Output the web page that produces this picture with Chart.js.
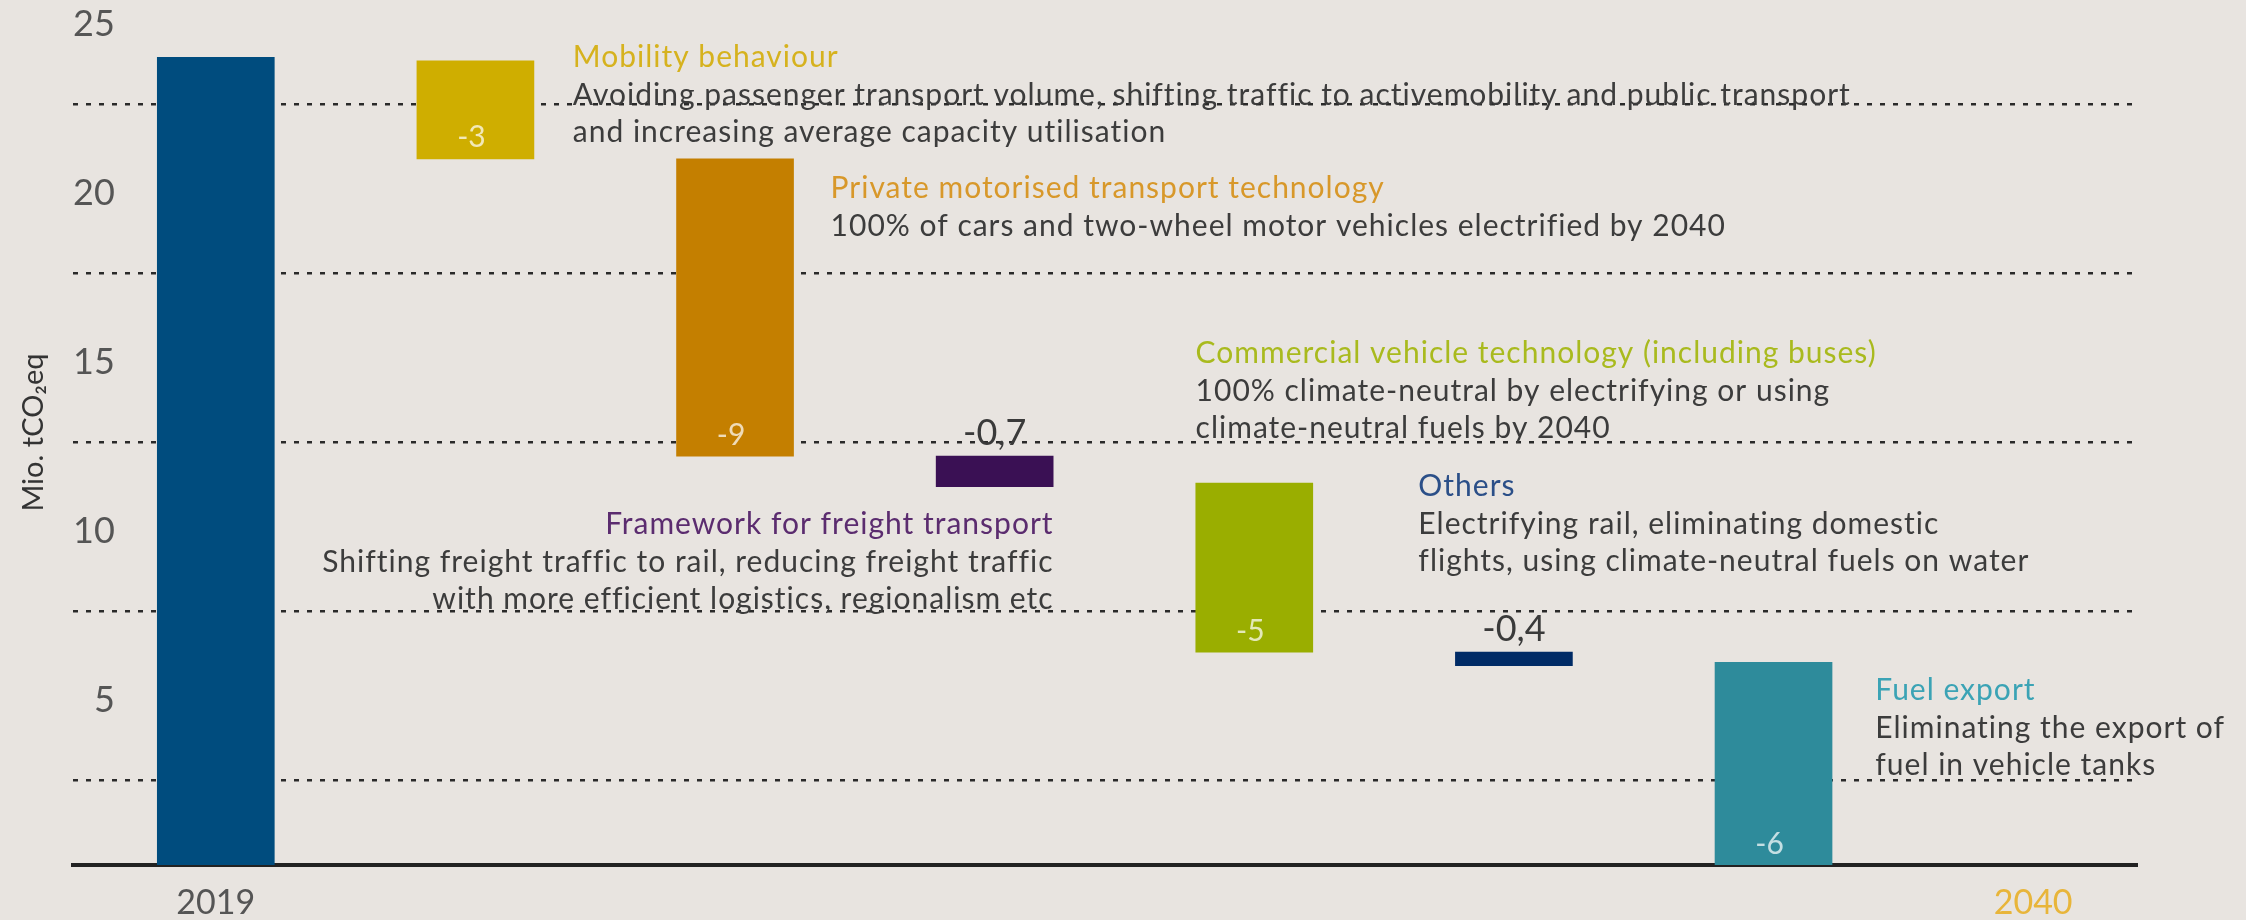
<!DOCTYPE html>
<html>
<head>
<meta charset="utf-8">
<script src="https://cdn.jsdelivr.net/npm/chart.js@4.4.1/dist/chart.umd.min.js"></script>
<style>
  html, body { margin: 0; padding: 0; background: #e8e4e0; }
  #wrap { width: 2246px; height: 920px; position: relative; }
</style>
</head>
<body>
<div id="wrap"><canvas id="chartReduction"></canvas></div>
<script>
/* Datos del grafico */
const categories = ['2019', 'Mobility behaviour', 'Private motorised transport technology',
  'Framework for freight transport', 'Commercial vehicle technology (including buses)',
  'Others', 'Fuel export'];
const barBottoms = [0, 20.9, 12.1, 11.2, 6.3, 5.9, 0];
const barTops = [23.9, 23.8, 20.9, 12.1, 11.3, 6.3, 6.0];
const valueLabels = ['', '-3', '-9', '-0,7', '-5', '-0,4', '-6'];
const yTickValues = [5, 10, 15, 20, 25];
const yGridValues = [2.5, 7.5, 12.5, 17.5, 22.5];
const xTickPositions = [0, 7];
const xTickLabels = ['2019', '2040'];

const noteTitles = ['', 'Mobility behaviour', 'Private motorised transport technology',
  'Framework for freight transport', 'Commercial vehicle technology (including buses)',
  'Others', 'Fuel export'];
const noteLines = [
  [],
  ['Avoiding passenger transport volume, shifting traffic to activemobility and public transport',
    'and increasing average capacity utilisation'],
  ['100% of cars and two-wheel motor vehicles electrified by 2040'],
  ['Shifting freight traffic to rail, reducing freight traffic',
    'with more efficient logistics, regionalism etc'],
  ['100% climate-neutral by electrifying or using', 'climate-neutral fuels by 2040'],
  ['Electrifying rail, eliminating domestic', 'flights, using climate-neutral fuels on water'],
  ['Eliminating the export of', 'fuel in vehicle tanks'],
];

/* Estilos */
const barColors = ['#004c7e', '#cfae00', '#c47f00', '#3a1054', '#9aae00', '#002b66', '#2e8b9b'];
const titleColors = ['', '#d6b21e', '#d8982a', '#5b2c6f', '#a9ba1e', '#2b4f88', '#3ba3b5'];
// posicion de cada nota en unidades de los ejes
const noteAnchors = [
  null,
  { x: 1.375, y: 23.91, align: 'left' },
  { x: 2.368, y: 20.02, align: 'left' },
  { x: 3.227, y: 10.09, align: 'right' },
  { x: 3.774, y: 15.13, align: 'left' },
  { x: 4.632, y: 11.21, align: 'left' },
  { x: 6.392, y: 5.16, align: 'left' },
];
const fontFamily = 'Lato, "Open Sans", sans-serif';

/* Etiquetas y notas */
const notesPlugin = {
  id: 'notes',
  afterDatasetsDraw(chart) {
    const { ctx, scales: { x, y } } = chart;
    const meta = chart.getDatasetMeta(0);
    ctx.save();
    ctx.textBaseline = 'middle';

    meta.data.forEach((bar, i) => {
      let txt = valueLabels[i];
      if (!txt) return;
      let props = bar.getProps(['x', 'y', 'base'], true);
      let top = Math.min(props.y, props.base);
      let bottom = Math.max(props.y, props.base);
      ctx.textAlign = 'center';
      if (bottom - top > 60) {
        ctx.font = `30px ${fontFamily}`;
        ctx.fillStyle = 'rgba(255,255,255,0.72)';
        ctx.fillText(txt, props.x - 4, bottom - 21);
      } else {
        ctx.font = `36px ${fontFamily}`;
        ctx.fillStyle = '#3a3a3a';
        ctx.fillText(txt, props.x, top - 23);
      }
    });

    ctx.letterSpacing = '1px';
    for (let i in noteTitles) {
      if (!noteTitles[i]) continue;
      let a = noteAnchors[i];
      let px = x.getPixelForValue(a.x);
      let py = y.getPixelForValue(a.y);
      ctx.textAlign = a.align;
      ctx.font = `30px ${fontFamily}`;
      ctx.fillStyle = titleColors[i];
      ctx.fillText(noteTitles[i], px, py);
      ctx.fillStyle = '#3c3c3c';
      noteLines[i].forEach((line, k) => {
        ctx.fillText(line, px, py + 38 + k * 37);
      });
    }
    ctx.restore();
  },
};

const cr = document.getElementById('chartReduction');
const chartReduction = new Chart(cr, {
  type: 'bar',
  plugins: [notesPlugin],
  data: {
    labels: categories,
    datasets: [
      {
        data: categories.map((c, i) => ({ x: i, y: [barBottoms[i], barTops[i]] })),
        backgroundColor: barColors,
        borderWidth: 0,
        barThickness: 117,
      },
    ],
  },
  options: {
    responsive: true,
    maintainAspectRatio: false,
    animation: false,
    layout: {
      padding: { left: 0, right: 109, top: 0, bottom: 0 },
    },
    scales: {
      x: {
        type: 'linear',
        offset: false,
        min: -0.55,
        max: 7.4,
        grid: { display: false, offset: false, drawTicks: false },
        border: { display: true, color: '#222', width: 4 },
        afterBuildTicks: (axis) => {
          axis.ticks = xTickPositions.map((v) => ({ value: v }));
        },
        afterFit: (axis) => {
          axis.height = 55;
          axis.paddingLeft = 0;
          axis.paddingRight = 0;
        },
        ticks: {
          padding: 18,
          font: { family: fontFamily, size: 34 },
          color: (ctx) => (ctx.index === 1 ? '#e8b53a' : '#555'),
          callback: (value, index) => xTickLabels[index],
        },
      },
      y: {
        min: 0,
        max: 25.6,
        position: 'left',
        grid: { display: false, drawTicks: false },
        border: { display: false },
        afterBuildTicks: (axis) => {
          axis.ticks = yTickValues.map((v) => ({ value: v }));
        },
        afterFit: (axis) => {
          axis.width = 73;
          axis.paddingTop = 0;
          axis.paddingBottom = 0;
        },
        ticks: {
          mirror: true,
          padding: 0,
          labelOffset: 4,
          font: { family: fontFamily, size: 36 },
          color: '#555',
          callback: (value) => String(value).padStart(2, '\u2007'),
        },
        title: {
          display: true,
          text: 'Mio. tCO\u2082eq',
          color: '#333',
          font: { family: fontFamily, size: 29 },
          padding: { top: 16, bottom: 22 },
        },
      },
      y2: {
        min: 0,
        max: 25.6,
        position: 'left',
        grid: { color: '#2a2a2a', lineWidth: 2.5, drawTicks: false },
        border: { display: false, dash: [5, 8] },
        afterBuildTicks: (axis) => {
          axis.ticks = yGridValues.map((v) => ({ value: v }));
        },
        afterFit: (axis) => {
          axis.width = 0;
          axis.paddingTop = 0;
          axis.paddingBottom = 0;
        },
        ticks: { display: false },
      },
    },
    plugins: {
      legend: { display: false },
      tooltip: { enabled: false },
    },
  },
});
</script>
</body>
</html>
